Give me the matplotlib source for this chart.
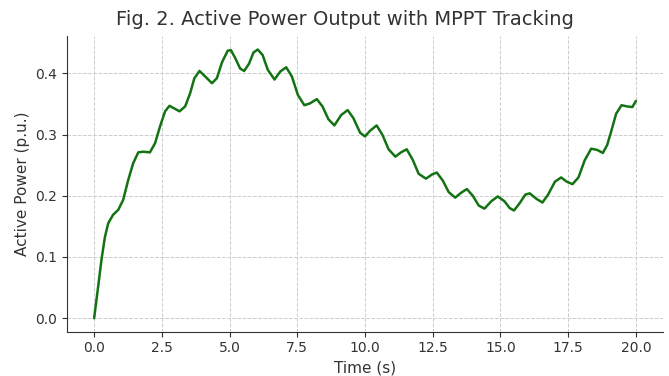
import matplotlib
matplotlib.use("Agg")
import matplotlib.pyplot as plt

time_s = [0.0, 0.15, 0.27, 0.40, 0.52, 0.70, 0.89, 1.07, 1.26, 1.44, 1.63, 1.81,
          2.06, 2.25, 2.43, 2.62, 2.78, 2.95, 3.15, 3.36, 3.54, 3.70, 3.89, 4.10,
          4.35, 4.53, 4.72, 4.93, 5.05, 5.21, 5.39, 5.54, 5.72, 5.88, 6.04, 6.22,
          6.41, 6.66, 6.87, 7.09, 7.30, 7.52, 7.76, 7.97, 8.22, 8.43, 8.65, 8.87,
          9.12, 9.36, 9.57, 9.82, 10.0, 10.18, 10.43, 10.65, 10.87, 11.12, 11.33,
          11.54, 11.76, 11.98, 12.25, 12.48, 12.65, 12.87, 13.09, 13.33, 13.55,
          13.76, 13.98, 14.20, 14.41, 14.66, 14.90, 15.15, 15.34, 15.50, 15.71,
          15.92, 16.08, 16.33, 16.55, 16.76, 17.01, 17.24, 17.45, 17.66, 17.88,
          18.11, 18.35, 18.57, 18.78, 18.94, 19.10, 19.27, 19.47, 19.68, 19.87, 20.0]
active_power = [0.0, 0.052, 0.095, 0.133, 0.155, 0.169, 0.177, 0.193, 0.226, 0.253, 0.271, 0.272,
                0.271, 0.286, 0.313, 0.338, 0.347, 0.343, 0.338, 0.346, 0.367, 0.392, 0.404, 0.395,
                0.384, 0.392, 0.418, 0.437, 0.438, 0.425, 0.408, 0.404, 0.416, 0.434, 0.439, 0.430,
                0.406, 0.390, 0.403, 0.410, 0.395, 0.365, 0.348, 0.351, 0.358, 0.346, 0.325, 0.315,
                0.332, 0.340, 0.327, 0.303, 0.297, 0.306, 0.315, 0.299, 0.276, 0.264, 0.271,
                0.276, 0.259, 0.236, 0.228, 0.235, 0.238, 0.225, 0.206, 0.197, 0.205,
                0.211, 0.200, 0.184, 0.179, 0.191, 0.199, 0.191, 0.180, 0.176, 0.188,
                0.202, 0.204, 0.195, 0.189, 0.202, 0.223, 0.230, 0.223, 0.219, 0.230,
                0.258, 0.277, 0.275, 0.270, 0.283, 0.307, 0.334, 0.348, 0.346, 0.345, 0.355]

title = "Fig. 2. Active Power Output with MPPT Tracking"
xlabel = "Time (s)"
ylabel = "Active Power (p.u.)"

fig = plt.figure(figsize=(6.69, 3.76), dpi=100)
ax = fig.add_axes([0.1002, 0.118, 0.8908, 0.786])
ax.plot(time_s, active_power, color="#137313", linewidth=1.8,
        solid_joinstyle="round", solid_capstyle="round")
ax.set_title(title, fontsize=14, color="#333333", pad=8, x=0.466)
ax.set_xlabel(xlabel, fontsize=11, color="#333333")
ax.set_ylabel(ylabel, fontsize=11, color="#333333")
ax.grid(True, linestyle="--", color="#cccccc", linewidth=0.7)
ax.set_axisbelow(True)
for s in ["top", "right"]:
    ax.spines[s].set_visible(False)
for s in ["left", "bottom"]:
    ax.spines[s].set_color("#333333")
ax.tick_params(colors="#333333", labelsize=10)
ax.set_xticks([0, 2.5, 5, 7.5, 10, 12.5, 15, 17.5, 20])
ax.set_yticks([0.0, 0.1, 0.2, 0.3, 0.4])
fig.savefig("out.png", dpi=100)
